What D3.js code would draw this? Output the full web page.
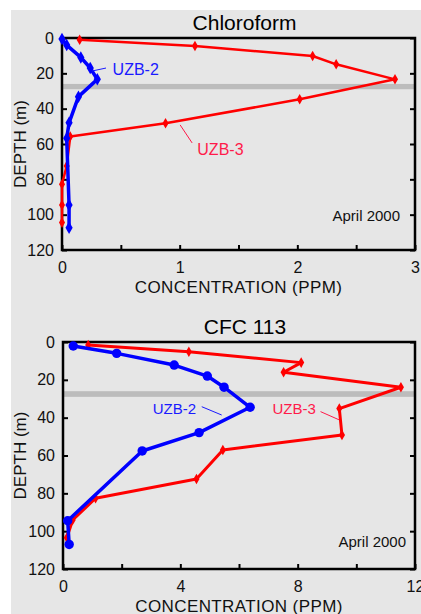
<!DOCTYPE html>
<html>
<head>
<meta charset="utf-8">
<script src="https://cdn.jsdelivr.net/npm/d3@7"></script>
<style>
  body { margin: 0; background: #fff; }
  text { font-family: "Liberation Sans", Arial, sans-serif; }
</style>
</head>
<body>
<div id="chart"></div>
<script>
// [concentration (ppm), depth (m)]
var chlUZB2 = [[0.0,0.6],[0.04,4],[0.16,11],[0.24,17],[0.30,23.4],[0.14,33.2],[0.06,48],[0.04,56.8],[0.06,94.5],[0.06,107.4]];
var chlUZB3 = [[0.15,1],[1.13,4.5],[2.13,10.2],[2.33,14.9],[2.83,23.4],[2.02,34.7],[0.88,48.3],[0.07,55.8],[0.04,72.4],[0.0,82.8],[0.0,94.5],[0.0,104.5]];
var cfcUZB2 = [[0.35,2.1],[1.83,6.0],[3.79,12.2],[4.92,18.0],[5.49,23.9],[6.38,34.5],[4.64,47.9],[2.70,57.6],[0.16,94.5],[0.21,107]];
var cfcUZB3 = [[0.86,1.6],[4.29,5.1],[8.12,10.9],[7.52,16.0],[11.52,23.9],[9.42,35.2],[9.51,49.2],[5.45,57.1],[4.55,72.4],[1.11,82.6],[0.33,94.1],[0.13,103.5]];

var depthTicks = [0, 20, 40, 60, 80, 100, 120];
var chlTicks = [0, 0.5, 1, 1.5, 2, 2.5, 3];
var cfcTicks = [0, 2, 4, 6, 8, 10, 12];
var waterTable = [26, 29];

var svg = d3.select("#chart").append("svg")
  .attr("width", 421)
  .attr("height", 614);

svg.append("rect")
  .attr("x", 11).attr("y", 10)
  .attr("width", 410).attr("height", 604)
  .attr("fill", "#e6e6e6");

function drawPanel(opt) {
  var x = d3.scaleLinear().domain(opt.xDomain).range([opt.left, opt.right]);
  var y = d3.scaleLinear().domain([0, 120]).range([opt.top, opt.bottom]);
  var g = svg.append("g");

  // title
  g.append("text")
    .attr("x", (opt.left + opt.right) / 2 + 6)
    .attr("y", opt.top - 8)
    .attr("text-anchor", "middle")
    .style("font-size", "21px")
    .text(opt.title);

  // water table band
  g.append("rect")
    .attr("x", opt.left).attr("width", opt.right - opt.left)
    .attr("y", y(waterTable[0])).attr("height", y(waterTable[1]) - y(waterTable[0]))
    .attr("fill", "#bcbcbc");

  // axes (ticks inward)
  var left = g.append("g").attr("transform", "translate(" + opt.left + ",0)")
    .call(d3.axisLeft(y).tickValues(depthTicks).tickSizeInner(-5).tickSizeOuter(0).tickPadding(8));
  var right = g.append("g").attr("transform", "translate(" + opt.right + ",0)")
    .call(d3.axisRight(y).tickValues(depthTicks).tickSizeInner(-5).tickSizeOuter(0).tickFormat(""));
  var bottom = g.append("g").attr("transform", "translate(0," + opt.bottom + ")")
    .call(d3.axisBottom(x).tickValues(opt.xTicks).tickSizeInner(-5).tickSizeOuter(0).tickPadding(12)
      .tickFormat(function (d) { return opt.xLabels.indexOf(d) >= 0 ? d : ""; }));
  [left, right, bottom].forEach(function (a) {
    a.select(".domain").remove();
    a.selectAll("line").attr("stroke", "#000").attr("stroke-width", 2);
    a.selectAll("text").style("font-size", "16px").attr("fill", "#111");
  });

  g.append("rect")
    .attr("x", opt.left).attr("y", opt.top)
    .attr("width", opt.right - opt.left).attr("height", opt.bottom - opt.top)
    .attr("fill", "none").attr("stroke", "#000").attr("stroke-width", 2.5);

  // axis titles
  g.append("text")
    .attr("x", (opt.left + opt.right) / 2)
    .attr("y", opt.bottom + 43)
    .attr("text-anchor", "middle")
    .style("font-size", "17px")
    .style("letter-spacing", "0.4px")
    .attr("fill", "#111")
    .text("CONCENTRATION (PPM)");
  g.append("text")
    .attr("transform", "translate(26," + ((opt.top + opt.bottom) / 2) + ") rotate(-90)")
    .attr("text-anchor", "middle")
    .style("font-size", "17px")
    .attr("fill", "#111")
    .text("DEPTH (m)");

  var line = d3.line().x(function (d) { return x(d[0]); }).y(function (d) { return y(d[1]); });

  opt.series.forEach(function (s) {
    g.append("path")
      .datum(s.data)
      .attr("d", line)
      .attr("fill", "none")
      .attr("stroke", s.color)
      .attr("stroke-width", s.width)
      .attr("stroke-linejoin", "round");
    g.selectAll(null)
      .data(s.data)
      .enter()
      .append("path")
      .attr("transform", function (d) { return "translate(" + x(d[0]) + "," + y(d[1]) + ")"; })
      .attr("d", d3.symbol().type(s.symbol).size(s.size))
      .attr("fill", s.color);
  });

  opt.labels.forEach(function (l) {
    g.append("line")
      .attr("x1", x(l.from[0])).attr("y1", y(l.from[1]))
      .attr("x2", x(l.to[0])).attr("y2", y(l.to[1]))
      .attr("stroke", l.color).attr("stroke-width", 1);
    g.append("text")
      .attr("x", x(l.at[0])).attr("y", y(l.at[1]))
      .style("font-size", l.size + "px")
      .attr("fill", l.color)
      .text(l.text);
  });

  g.append("text")
    .attr("x", opt.right - opt.noteDx)
    .attr("y", opt.bottom - opt.noteDy)
    .attr("text-anchor", "end")
    .style("font-size", "15px")
    .attr("fill", "#111")
    .text("April 2000");
}

drawPanel({
  title: "Chloroform",
  left: 62, right: 415, top: 38, bottom: 250,
  xDomain: [0, 3], xTicks: chlTicks, xLabels: [0, 1, 2, 3],
  noteDx: 15, noteDy: 29,
  series: [
    {data: chlUZB3, color: "#ff0000", width: 2.5, symbol: d3.symbolDiamond, size: 32},
    {data: chlUZB2, color: "#0000ff", width: 3.5, symbol: d3.symbolDiamond, size: 45}
  ],
  labels: [
    {text: "UZB-2", color: "#1a1aff", size: 16, at: [0.43, 21.2], from: [0.374, 17], to: [0.255, 18.7]},
    {text: "UZB-3", color: "#ff1a4a", size: 16, at: [1.15, 66.2], from: [1.106, 59.4], to: [1.004, 49.2]}
  ]
});

drawPanel({
  title: "CFC 113",
  left: 63, right: 415, top: 342, bottom: 569,
  xDomain: [0, 12], xTicks: cfcTicks, xLabels: [0, 4, 8, 12],
  noteDx: 9, noteDy: 22,
  series: [
    {data: cfcUZB3, color: "#ff0000", width: 3, symbol: d3.symbolDiamond, size: 32},
    {data: cfcUZB2, color: "#0000ff", width: 3.5, symbol: d3.symbolCircle, size: 70}
  ],
  labels: [
    {text: "UZB-2", color: "#1a1aff", size: 15, at: [3.06, 38], from: [4.73, 34.2], to: [5.41, 38.6]},
    {text: "UZB-3", color: "#ff1a4a", size: 15, at: [7.14, 38], from: [8.78, 36.8], to: [9.42, 41.2]}
  ]
});
</script>
</body>
</html>
